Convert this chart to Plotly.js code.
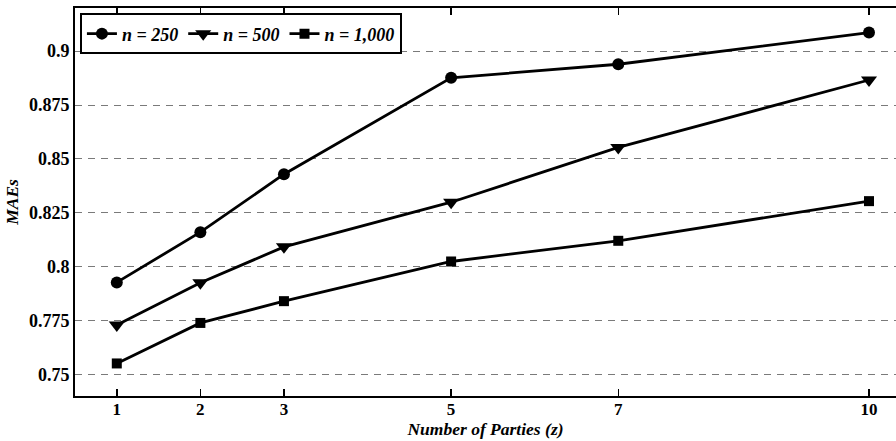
<!DOCTYPE html>
<html>
<head>
<meta charset="utf-8">
<script src="https://cdn.plot.ly/plotly-3.0.1.min.js"></script>
<style>html,body{margin:0;padding:0;background:#fff;}#chart{width:896px;height:441px;}</style>
</head>
<body>
<div id="chart"></div>
<script>
const parties = [1, 2, 3, 5, 7, 10];
const mae_n250 = [0.7927, 0.8160, 0.8429, 0.8876, 0.8939, 0.9086];
const mae_n500 = [0.7729, 0.7925, 0.8092, 0.8299, 0.8553, 0.8866];
const mae_n1000 = [0.7551, 0.7739, 0.7840, 0.8024, 0.8120, 0.8304];
const seriesNames = ['n = 250', 'n = 500', 'n = 1,000'];
const xTickText = ['1', '2', '3', '5', '7', '10'];
const yTicks = [0.75, 0.775, 0.8, 0.825, 0.85, 0.875, 0.9];
const yTickText = ['0.75', '0.775', '0.8', '0.825', '0.85', '0.875', '0.9'];

const serif = 'Liberation Serif, Times New Roman, serif';
function trace(y, name, symbol, size) {
  return {
    x: parties, y: y, name: '<b><i>' + name + '</i></b>', type: 'scatter', mode: 'lines+markers',
    line: {color: '#000', width: 2.8},
    marker: {symbol: symbol, size: size, color: '#000'}
  };
}
const data = [
  trace(mae_n250, seriesNames[0], 'circle', 12),
  trace(mae_n500, seriesNames[1], 'triangle-down', 14),
  trace(mae_n1000, seriesNames[2], 'square', 10)
];
const layout = {
  width: 896, height: 441,
  margin: {l: 75, r: 0, t: 8, b: 45},
  paper_bgcolor: '#fff', plot_bgcolor: '#fff',
  showlegend: true,
  font: {family: serif, color: '#000'},
  xaxis: {
    range: [0.5, 10.323],
    tickvals: parties, ticktext: xTickText.map(t => '<b>' + t + '</b>'),
    ticks: 'inside', ticklen: 7, tickwidth: 1.5, tickcolor: '#000',
    ticklabelstandoff: -3,
    showline: true, linecolor: '#000', linewidth: 2, mirror: 'ticks',
    showgrid: false, zeroline: false,
    tickfont: {family: serif, size: 17, color: '#000'},
    title: {text: '<b><i>Number of Parties (z)</i></b>', font: {family: serif, size: 17.5, color: '#000'}, standoff: 0}
  },
  yaxis: {
    range: [0.74, 0.92],
    tickvals: yTicks, ticktext: yTickText.map(t => '<b>' + t + '</b>'),
    ticks: '', showline: true, linecolor: '#000', linewidth: 2, mirror: false,
    showgrid: true, gridcolor: '#7a7a7a', gridwidth: 1, griddash: '7px,6px',
    zeroline: false,
    tickfont: {family: serif, size: 18, color: '#000'},
    title: {text: '<b><i>MAEs</i></b>', font: {family: serif, size: 17.5, color: '#000'}, standoff: 6}
  },
  legend: {
    orientation: 'h', x: 0.006, y: 0.986, xanchor: 'left', yanchor: 'top',
    bgcolor: '#fff', bordercolor: '#000', borderwidth: 2,
    font: {family: serif, size: 18, color: '#000'},
    itemwidth: 30, tracegroupgap: 0, traceorder: 'normal'
  }
};
Plotly.newPlot('chart', data, layout, {displayModeBar: false, staticPlot: true});
</script>
</body>
</html>
